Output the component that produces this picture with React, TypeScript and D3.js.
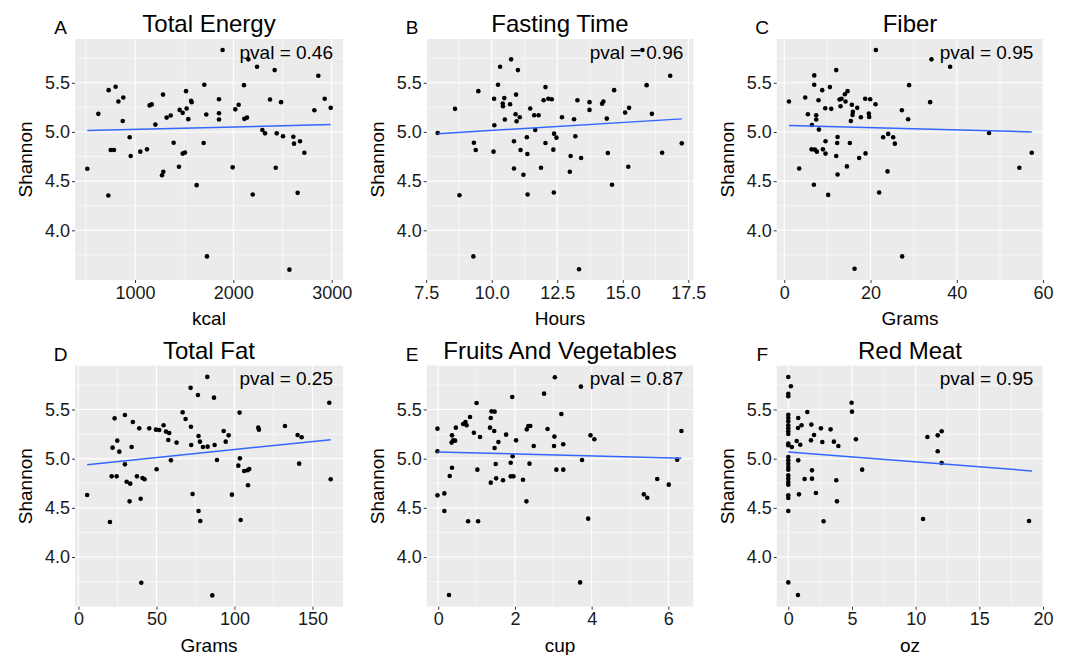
import React, { useEffect, useRef } from 'react';
import * as d3 from 'd3';

// [x, shannon] pairs
const totalEnergy: [number, number][] = [
  [515, 4.626], [627, 5.184], [732, 5.425], [803, 5.459], [831, 5.31], [881, 5.35], [875, 5.112],
  [753, 4.816], [786, 4.816], [729, 4.354], [946, 4.946], [956, 4.755], [1054, 4.8], [1122, 4.823],
  [1207, 5.075], [1149, 5.27], [1170, 5.28], [1285, 5.38], [1275, 4.56], [1288, 4.595], [1322, 5.146],
  [1363, 5.167], [1393, 4.89], [1447, 4.646], [1454, 5.224], [1485, 5.194], [1485, 4.78], [1508, 4.79],
  [1519, 5.415], [1525, 5.238], [1542, 5.13], [1570, 5.316], [1576, 5.303], [1627, 4.459], [1705, 5.48],
  [1725, 5.177], [1698, 4.888], [1732, 3.735], [1854, 5.333], [1854, 5.19], [1854, 5.126], [1891, 5.833],
  [1993, 4.64], [2020, 5.23], [2054, 5.276], [2108, 5.476], [2112, 5.133], [2139, 5.146], [2153, 5.738],
  [2197, 4.364], [2241, 5.663], [2295, 5.02], [2322, 4.986], [2373, 5.33], [2420, 5.629], [2431, 4.636],
  [2441, 4.986], [2485, 5.303], [2505, 4.956], [2610, 4.952], [2617, 4.881], [2570, 3.6], [2654, 4.381],
  [2678, 4.905], [2722, 4.789], [2824, 5.221], [2864, 5.571], [2929, 5.337], [2990, 5.245],
];

const fastingTime: [number, number][] = [
  [7.94, 4.99], [8.6, 5.235], [8.77, 4.357], [9.32, 4.89], [9.39, 4.816], [9.3, 3.735], [9.49, 5.415],
  [10.07, 4.8], [10.1, 5.068], [10.09, 5.337], [10.24, 5.48], [10.32, 5.663], [10.42, 5.29], [10.43, 5.262],
  [10.48, 5.344], [10.5, 5.126], [10.7, 5.282], [10.74, 5.738], [10.85, 4.905], [10.85, 4.629], [10.91, 5.18],
  [10.93, 5.38], [10.95, 5.109], [11.0, 5.629], [11.07, 5.15], [11.1, 4.816], [11.21, 4.565], [11.34, 4.946],
  [11.36, 4.776], [11.37, 4.364], [11.47, 5.238], [11.62, 5.17], [11.66, 5.02], [11.79, 5.17], [11.88, 4.636],
  [11.98, 5.323], [12.05, 5.456], [12.05, 4.888], [12.16, 5.337], [12.29, 5.333], [12.35, 4.82], [12.38, 4.983],
  [12.37, 4.384], [12.47, 4.942], [12.68, 5.15], [12.98, 4.595], [13.01, 4.755], [13.14, 5.129], [13.19, 4.956],
  [13.27, 5.323], [13.33, 3.605], [13.41, 4.735], [13.73, 5.303], [13.73, 5.224], [14.21, 5.286], [14.26, 5.31],
  [14.39, 5.136], [14.43, 4.786], [14.59, 4.463], [14.67, 5.425], [15.21, 4.646], [15.09, 5.197], [15.24, 5.245],
  [15.91, 5.476], [16.11, 5.184], [16.5, 4.789], [16.81, 5.571], [17.25, 4.884], [15.75, 5.833],
];

const fiber: [number, number][] = [
  [1.09, 5.31], [3.47, 4.629], [4.86, 5.35], [5.48, 5.18], [6.41, 5.071], [6.33, 4.823], [6.95, 5.575],
  [6.95, 5.48], [6.87, 4.463], [7.1, 4.82], [7.41, 5.17], [7.41, 5.126], [7.56, 4.8], [7.95, 5.323],
  [8.03, 5.024], [8.8, 5.425], [8.96, 4.823], [9.5, 5.241], [9.57, 4.905], [9.57, 4.78], [10.19, 4.36],
  [10.58, 5.456], [10.89, 5.235], [12.05, 5.629], [12.05, 4.755], [12.36, 4.949], [12.28, 4.888], [12.36, 4.568],
  [12.82, 5.33], [13.05, 5.262], [13.28, 5.337], [14.05, 5.384], [14.2, 5.31], [14.67, 5.415], [14.52, 4.65],
  [15.21, 4.888], [15.44, 5.112], [15.67, 5.276], [15.83, 5.173], [15.9, 5.204], [16.3, 3.609], [16.91, 5.245],
  [17.37, 4.735], [17.76, 5.15], [18.76, 5.337], [18.84, 4.782], [19.61, 5.187], [19.69, 5.153], [19.92, 5.333],
  [21.16, 5.282], [21.23, 5.833], [22.0, 4.384], [22.93, 4.946], [24.09, 4.98], [23.94, 4.599], [25.25, 4.946],
  [25.64, 4.881], [27.26, 5.221], [27.33, 3.735], [28.72, 5.129], [28.95, 5.476], [33.82, 5.303], [34.13, 5.738],
  [38.45, 5.663], [47.49, 4.99], [54.5, 4.636], [57.37, 4.789],
];

const totalFat: [number, number][] = [
  [5.6, 4.63], [20.2, 4.356], [21.9, 5.112], [21.3, 4.82], [23.2, 5.41], [24.5, 4.82], [24.9, 5.183],
  [26.2, 5.071], [29.8, 5.444], [29.8, 4.942], [30.9, 4.766], [32.8, 4.566], [33.2, 4.746], [34.1, 5.119],
  [34.9, 5.373], [37.5, 4.82], [39.0, 5.308], [39.9, 4.593], [40.3, 3.739], [41.1, 4.803], [42.4, 4.79],
  [45.4, 5.308], [49.7, 5.295], [50.1, 4.892], [51.8, 5.292], [54.6, 5.339], [56.1, 5.275], [57.6, 5.19],
  [58.2, 5.261], [59.3, 4.983], [62.9, 5.163], [66.8, 5.471], [68.7, 5.403], [71.9, 5.72], [72.1, 5.325],
  [72.3, 5.139], [73.2, 4.641], [76.6, 5.647], [77.0, 5.231], [77.0, 4.468], [77.9, 5.173], [78.1, 4.366],
  [79.8, 5.119], [82.6, 5.831], [82.8, 5.122], [85.8, 3.61], [86.9, 5.62], [87.3, 5.139], [88.8, 4.986],
  [93.1, 5.281], [94.4, 5.173], [96.3, 5.237], [98.4, 4.634], [102.5, 4.929], [103.3, 5.468], [103.5, 5.003],
  [104.0, 4.376], [106.3, 4.875], [108.5, 4.882], [109.5, 4.895], [108.7, 4.729], [115.3, 5.315], [115.7, 5.295],
  [132.4, 5.332], [140.5, 5.241], [143.1, 5.217], [141.5, 4.949], [160.8, 5.569], [161.7, 4.79],
];

const fruitsVeg: [number, number][] = [
  [-0.02, 5.305], [-0.02, 5.075], [-0.02, 4.627], [0.16, 4.647], [0.16, 4.468], [0.28, 3.614], [0.3, 4.824],
  [0.36, 5.237], [0.36, 4.908], [0.35, 5.163], [0.39, 5.186], [0.44, 5.183], [0.46, 5.315], [0.65, 5.353],
  [0.71, 5.373], [0.74, 5.339], [0.78, 4.363], [0.83, 5.424], [0.93, 5.264], [1.0, 5.566], [1.02, 4.888],
  [1.04, 4.363], [1.09, 5.22], [1.35, 5.315], [1.37, 5.414], [1.39, 5.481], [1.37, 4.756], [1.47, 5.478],
  [1.46, 5.281], [1.47, 5.108], [1.5, 4.946], [1.51, 4.8], [1.57, 5.169], [1.69, 4.78], [1.77, 5.244],
  [1.89, 4.959], [1.89, 4.82], [1.93, 5.627], [1.94, 5.024], [1.96, 4.82], [2.03, 5.186], [2.21, 4.786],
  [2.3, 4.566], [2.31, 5.298], [2.35, 5.332], [2.4, 5.332], [2.38, 4.949], [2.49, 5.129], [2.76, 5.661],
  [2.85, 5.302], [3.02, 5.129], [3.03, 5.224], [3.04, 5.827], [3.08, 4.888], [3.21, 5.454], [3.26, 5.146],
  [3.26, 4.888], [3.7, 3.742], [3.72, 5.732], [3.75, 4.986], [3.91, 4.39], [3.97, 5.237], [4.07, 5.197],
  [5.36, 4.637], [5.45, 4.603], [5.71, 4.793], [6.01, 4.736], [6.23, 4.99], [6.34, 5.281],
];

const redMeat: [number, number][] = [
  [0, 5.83], [0, 5.66], [0, 5.634], [0, 5.447], [0, 5.414], [0, 5.38], [0, 5.339], [0, 5.31], [0, 5.278],
  [0, 5.25], [0, 5.153], [0, 5.136], [0, 5.017], [0, 4.983], [0, 4.949], [0, 4.915], [0, 4.888], [0, 4.83],
  [0, 4.797], [0, 4.763], [0, 4.736], [0, 4.627], [0, 4.6], [0, 4.468], [0, 3.742],
  [0.2, 5.736], [0.28, 5.119], [0.66, 5.18], [0.78, 5.414], [0.76, 5.312], [0.78, 4.983], [0.84, 4.637],
  [0.76, 3.614], [0.94, 5.142], [1.04, 5.339], [1.49, 5.475], [1.28, 4.793], [1.78, 5.186], [1.81, 5.346],
  [1.86, 4.881], [1.86, 4.797], [2.02, 5.241], [2.17, 4.651], [2.56, 5.308], [2.67, 5.169], [2.77, 4.363],
  [3.32, 5.298], [3.58, 5.173], [3.77, 4.78], [3.82, 4.566], [3.93, 5.129], [4.97, 5.569], [5.0, 5.478],
  [5.31, 5.197], [5.8, 4.888], [10.58, 4.386], [10.92, 5.22], [11.73, 5.237], [11.73, 5.075], [12.04, 5.278],
  [12.04, 4.956], [18.9, 4.366],
];

const titles = ['Total Energy', 'Fasting Time', 'Fiber', 'Total Fat', 'Fruits And Vegetables', 'Red Meat'];
const letters = ['A', 'B', 'C', 'D', 'E', 'F'];
const xTitles = ['kcal', 'Hours', 'Grams', 'Grams', 'cup', 'oz'];
const pvals = ['0.46', '0.96', '0.95', '0.25', '0.87', '0.95'];
const xTicks = [
  [1000, 2000, 3000],
  [7.5, 10, 12.5, 15, 17.5],
  [0, 20, 40, 60],
  [0, 50, 100, 150],
  [0, 2, 4, 6],
  [0, 5, 10, 15, 20],
];
const xFormats = ['d', '.1f', 'd', 'd', 'd', 'd'];
const xDomains = [
  [390, 3115],
  [7.52, 17.69],
  [-1.75, 60.05],
  [-2.2, 169.6],
  [-0.3, 6.65],
  [-0.91, 20.02],
];
const yTicks = [4.0, 4.5, 5.0, 5.5];
const yDomain = [3.495, 5.945];
// fitted lm line endpoints [x0, y0, x1, y1]
const fits = [
  [515, 5.014, 2990, 5.075],
  [7.94, 4.983, 17.25, 5.133],
  [1.09, 5.065, 57.37, 5.0],
  [5.6, 4.939, 161.7, 5.193],
  [-0.02, 5.068, 6.34, 5.003],
  [0, 5.068, 19.13, 4.875],
];

const datasets = [totalEnergy, fastingTime, fiber, totalFat, fruitsVeg, redMeat];

const W = 1069;
const H = 655;
const cols = [[75, 343], [426.7, 693.3], [776.7, 1043.3]];
const rows = [[39, 280], [365.7, 606.7]];
const FONT = '"Liberation Sans", Arial, sans-serif';

// midpoints between majors, plus one step outside if still inside the domain
function minors(major: number[], domain: number[]) {
  const step = major[1] - major[0];
  const out: number[] = [];
  const cand = [major[0] - step / 2, ...major.map(m => m + step / 2)];
  cand.forEach(c => { if (c >= domain[0] && c <= domain[1]) out.push(c); });
  return out;
}

export default function App() {
  const svgRef = useRef<SVGSVGElement>(null);

  useEffect(() => {
    const svg = d3.select(svgRef.current);
    svg.selectAll('*').remove();

    svg.append('rect').attr('width', W).attr('height', H).attr('fill', '#fff');

    datasets.forEach((data, i) => {
      const [x0, x1] = cols[i % 3];
      const [y0, y1] = rows[Math.floor(i / 3)];

      const x = d3.scaleLinear().domain(xDomains[i]).range([x0, x1]);
      const y = d3.scaleLinear().domain(yDomain).range([y1, y0]);

      const g = svg.append('g');

      // panel background
      g.append('rect')
        .attr('x', x0).attr('y', y0)
        .attr('width', x1 - x0).attr('height', y1 - y0)
        .attr('fill', '#EBEBEB');

      // minor grid
      minors(xTicks[i], xDomains[i]).forEach(v => {
        g.append('line').attr('x1', x(v)).attr('x2', x(v)).attr('y1', y0).attr('y2', y1)
          .attr('stroke', '#fff').attr('stroke-width', 0.55);
      });
      minors(yTicks, yDomain).forEach(v => {
        g.append('line').attr('x1', x0).attr('x2', x1).attr('y1', y(v)).attr('y2', y(v))
          .attr('stroke', '#fff').attr('stroke-width', 0.55);
      });

      // major grid
      xTicks[i].forEach(v => {
        g.append('line').attr('x1', x(v)).attr('x2', x(v)).attr('y1', y0).attr('y2', y1)
          .attr('stroke', '#fff').attr('stroke-width', 1.1);
      });
      yTicks.forEach(v => {
        g.append('line').attr('x1', x0).attr('x2', x1).attr('y1', y(v)).attr('y2', y(v))
          .attr('stroke', '#fff').attr('stroke-width', 1.1);
      });

      // axes
      const xAxis = g.append('g')
        .attr('transform', `translate(0,${y1})`)
        .call(d3.axisBottom(x).tickValues(xTicks[i]).tickFormat(d3.format(xFormats[i]) as any)
          .tickSizeInner(3).tickSizeOuter(0).tickPadding(3));
      const yAxis = g.append('g')
        .attr('transform', `translate(${x0},0)`)
        .call(d3.axisLeft(y).tickValues(yTicks).tickFormat(d3.format('.1f') as any)
          .tickSizeInner(3).tickSizeOuter(0).tickPadding(2));
      [xAxis, yAxis].forEach(ax => {
        ax.select('.domain').remove();
        ax.selectAll('line').attr('stroke', '#333');
        ax.selectAll('text')
          .attr('fill', '#1a1a1a')
          .style('font-family', FONT)
          .style('font-size', '18px');
      });

      // points
      g.selectAll('circle.pt')
        .data(data)
        .enter()
        .append('circle')
        .attr('class', 'pt')
        .attr('cx', d => x(d[0]))
        .attr('cy', d => y(d[1]))
        .attr('r', 2.3)
        .attr('fill', '#000');

      // regression line
      const f = fits[i];
      g.append('line')
        .attr('x1', x(f[0])).attr('y1', y(f[1]))
        .attr('x2', x(f[2])).attr('y2', y(f[3]))
        .attr('stroke', '#3366FF').attr('stroke-width', 1.5);

      // pval annotation
      g.append('text')
        .attr('x', x1 - 10).attr('y', y0 + 19.5)
        .attr('text-anchor', 'end')
        .style('font-family', FONT).style('font-size', '19px')
        .attr('fill', '#000')
        .text(`pval = ${pvals[i]}`);

      // title and panel letter
      g.append('text')
        .attr('x', (x0 + x1) / 2).attr('y', y0 - 7)
        .attr('text-anchor', 'middle')
        .style('font-family', FONT).style('font-size', '24px')
        .attr('fill', '#000')
        .text(titles[i]);
      g.append('text')
        .attr('x', x0 - 14.5).attr('y', y0 - 5)
        .attr('text-anchor', 'middle')
        .style('font-family', FONT).style('font-size', '19px')
        .attr('fill', '#000')
        .text(letters[i]);

      // axis titles
      g.append('text')
        .attr('x', (x0 + x1) / 2).attr('y', y1 + 45)
        .attr('text-anchor', 'middle')
        .style('font-family', FONT).style('font-size', '19px')
        .attr('fill', '#000')
        .text(xTitles[i]);
      g.append('text')
        .attr('transform', `translate(${x0 - 43},${(y0 + y1) / 2}) rotate(-90)`)
        .attr('text-anchor', 'middle')
        .style('font-family', FONT).style('font-size', '19px')
        .attr('fill', '#000')
        .text('Shannon');
    });
  }, []);

  return (
    <svg ref={svgRef} width={W} height={H}
      style={{ position: 'absolute', left: 0, top: 0 }} />
  );
}
